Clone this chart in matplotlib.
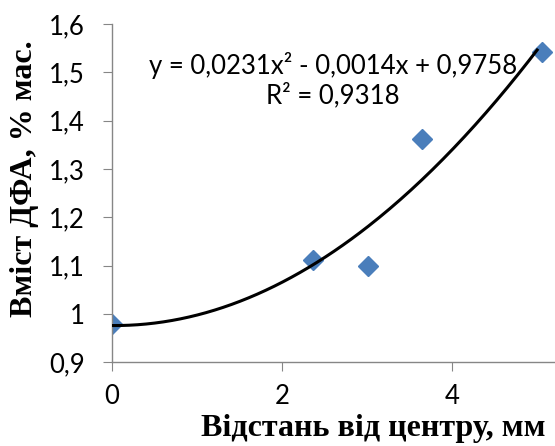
import numpy as np
import matplotlib.pyplot as plt

# Дані
distance = [0.0, 2.36, 3.01, 3.65, 5.06]
content = [0.978, 1.111, 1.100, 1.362, 1.542]
coef = [0.0231, -0.0014, 0.9758]
x_ticks = [0, 2, 4]
y_ticks = [0.9, 1.0, 1.1, 1.2, 1.3, 1.4, 1.5, 1.6]
y_tick_labels = ['0,9', '1', '1,1', '1,2', '1,3', '1,4', '1,5', '1,6']

fig = plt.figure(figsize=(5.55, 4.46), dpi=100)
ax = fig.add_axes([0.2018, 0.188, 0.7982, 0.758])

# Trend line
xs = np.linspace(0, 5.0, 200)
ax.plot(xs, np.polyval(coef, xs), color='black', lw=2.2, zorder=3)

ax.plot(distance, content, 'D', color='#4a7ebb', ms=10, mec='#4a7ebb', zorder=2)

ax.text(0.499, 0.834, 'y = 0,0231x² - 0,0014x + 0,9758\nR² = 0,9318',
        transform=ax.transAxes, ha='center', va='center', fontsize=18.5,
        family='Lato', linespacing=1.2)

ax.set_xlim(0, 5.21)
ax.set_ylim(0.9, 1.6)
ax.set_xticks(x_ticks)
ax.set_xticklabels([str(t) for t in x_ticks])
ax.set_yticks(y_ticks)
ax.set_yticklabels(y_tick_labels)
for lab in ax.get_xticklabels() + ax.get_yticklabels():
    lab.set_family('Lato')
    lab.set_fontsize(18.5)

for s in ['top', 'right']:
    ax.spines[s].set_visible(False)
for s in ['left', 'bottom']:
    ax.spines[s].set_color('#868686')
    ax.spines[s].set_linewidth(1)
ax.tick_params(direction='out', length=6.5, color='#868686')
ax.tick_params(axis='y', pad=13)
ax.tick_params(axis='x', pad=9)

ax.set_xlabel('Відстань від центру, мм', family='Liberation Serif',
              fontweight='bold', fontsize=23)
ax.xaxis.set_label_coords(0.589, -0.195)
ax.xaxis.label.set_va('center')
ax.set_ylabel('Вміст ДФА, % мас.', family='Liberation Serif',
              fontweight='bold', fontsize=23)
ax.yaxis.set_label_coords(-0.198, 0.544)
ax.yaxis.label.set_va('center')

fig.savefig('out.png', dpi=100)
